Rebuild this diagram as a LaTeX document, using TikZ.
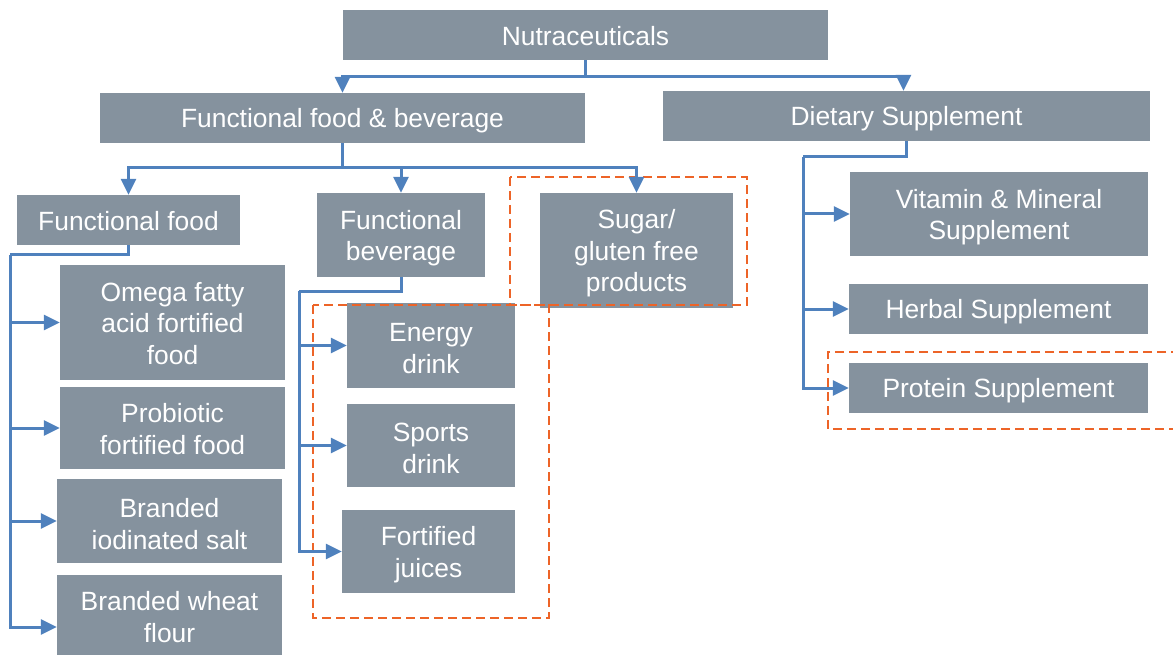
\documentclass[tikz,border=0pt]{standalone}
\usepackage{fontspec}
\setmainfont{Liberation Sans}
\usetikzlibrary{arrows.meta}
\definecolor{boxgray}{RGB}{133,146,158}
\definecolor{connblue}{RGB}{79,129,189}
\definecolor{dashorange}{RGB}{237,100,40}
\tikzset{
  box/.style={fill=boxgray, inner sep=0pt},
  lab/.style={text=white, inner sep=0pt, align=center, yshift=-3pt,
    font=\fontsize{26.4}{31.5}\selectfont},
  conn/.style={draw=connblue, line width=3pt},
  arr/.style={conn, -{Triangle[length=16pt,width=15pt]}},
  dashbox/.style={draw=dashorange, line width=2.3pt, dash pattern=on 9pt off 5pt}
}
\begin{document}
\begin{tikzpicture}[x=1pt,y=-1pt]
\useasboundingbox (0,0) rectangle (1173,655);
% nodes
\node[box, minimum width=485pt, minimum height=50pt, label={[lab,yshift=2pt]center:Nutraceuticals}] (nut) at (585.5,35) {};
\node[box, minimum width=485pt, minimum height=50pt, label={[lab]center:Functional food \& beverage}] (ffb) at (342.5,118) {};
\node[box, minimum width=487pt, minimum height=50pt, label={[lab]center:Dietary Supplement}] (ds) at (906.5,116) {};
\node[box, minimum width=223pt, minimum height=50pt, label={[lab,yshift=2pt]center:Functional food}] (ff) at (128.5,220) {};
\node[box, minimum width=168pt, minimum height=84pt, label={[lab]center:Functional\\beverage}] (fb) at (401,235) {};
\node[box, minimum width=193pt, minimum height=115pt, label={[lab]center:Sugar/\\gluten free\\products}] (sg) at (636.5,250.5) {};
\node[box, minimum width=298pt, minimum height=84pt, label={[lab]center:Vitamin \& Mineral\\Supplement}] (vm) at (999,214) {};
\node[box, minimum width=299pt, minimum height=50pt, label={[lab]center:Herbal Supplement}] (hs) at (998.5,309) {};
\node[box, minimum width=299pt, minimum height=50pt, label={[lab]center:Protein Supplement}] (ps) at (998.5,388) {};
\node[box, minimum width=225pt, minimum height=115pt, label={[lab,yshift=2pt]center:Omega fatty\\acid fortified\\food}] (om) at (172.5,322.5) {};
\node[box, minimum width=225pt, minimum height=82pt, label={[lab,yshift=2pt]center:Probiotic\\fortified food}] (pb) at (172.5,428) {};
\node[box, minimum width=225pt, minimum height=84pt, label={[lab]center:Branded\\iodinated salt}] (io) at (169.5,521) {};
\node[box, minimum width=225pt, minimum height=80pt, label={[lab,yshift=1pt]center:Branded wheat\\flour}] (wf) at (169.5,615) {};
\node[box, minimum width=168pt, minimum height=85pt, label={[lab]center:Energy\\drink}] (ed) at (431,345.5) {};
\node[box, minimum width=168pt, minimum height=83pt, label={[lab]center:Sports\\drink}] (sd) at (431,445.5) {};
\node[box, minimum width=173pt, minimum height=83pt, label={[lab]center:Fortified\\juices}] (fj) at (428.5,551.5) {};
% dashed groups
\draw[dashbox] (510,177) rectangle (747,305);
\draw[dashbox] (313,305) rectangle (549,618);
\draw[dashbox] (1180,352) -- (828,352) -- (828,429) -- (1180,429);
% connectors
\coordinate (nj) at (585.5,77);
\draw[conn] (nut.south) -- (nj);
\draw[arr] (nj) -| (ffb.north);
\draw[arr] (nj) -| ([xshift=-3pt]ds.north);
\coordinate (fj1) at (342.5,168);
\draw[conn] (ffb.south) -- (fj1);
\draw[arr] (fj1) -| (ff.north);
\draw[arr] (fj1) -| (fb.north);
\draw[arr] (fj1) -| (sg.north);
\coordinate (ffl) at (10,255);
\draw[conn] (ff.south) |- (ffl);
\draw[arr] (ffl) |- (om.west);
\draw[arr] (ffl) |- (pb.west);
\draw[arr] (ffl) |- (io.west);
\draw[arr] (ffl) |- ([yshift=-12pt]wf.west);
\coordinate (fbl) at (299,291);
\draw[conn] (fb.south) |- (fbl);
\draw[arr] (fbl) |- (ed.west);
\draw[arr] (fbl) |- (sd.west);
\draw[arr] (fbl) |- (fj.west);
\coordinate (dsl) at (803,157);
\draw[conn] (ds.south) |- (dsl);
\draw[arr] (dsl) |- (vm.west);
\draw[arr] (dsl) |- (hs.west);
\draw[arr] (dsl) |- (ps.west);
\end{tikzpicture}
\end{document}
